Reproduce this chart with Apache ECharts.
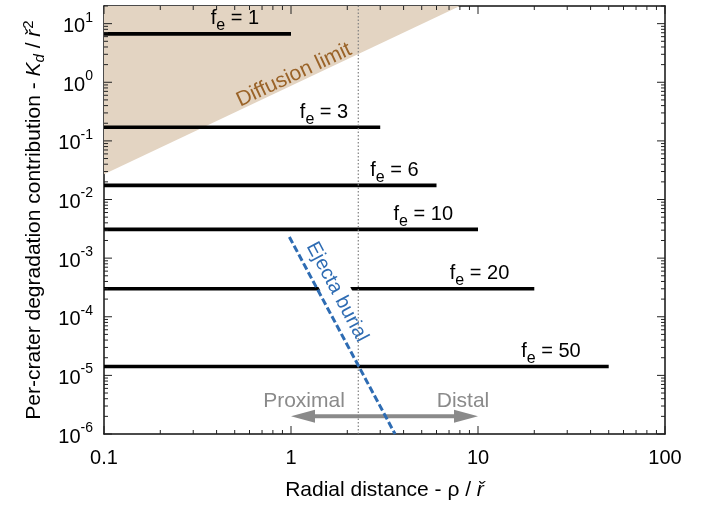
<!DOCTYPE html>
<html>
<head>
<meta charset="utf-8">
<script src="https://cdn.jsdelivr.net/npm/echarts@6/dist/echarts.min.js"></script>
<style>
  html, body { margin: 0; padding: 0; background: #fff; }
  #chart { width: 706px; height: 506px; }
</style>
</head>
<body>
<div id="chart"></div>
<script>
const FONT = '"Liberation Sans", Arial, Helvetica, sans-serif';

// Ejecta efficiency factors and their per-crater degradation levels
const feNames = ['1', '3', '6', '10', '20', '50'];
const feLevels = [6.7, 0.171, 0.0174, 0.0031, 0.0003, 1.42e-5];
const feReach = [1, 3, 6, 10, 20, 50];
const feStart = 0.1;

// Diffusion limit boundary; the region above it is shaded
const diffusionX = [0.1, 8];
const diffusionY = [0.027, 20];

// Ejecta burial line
const burialX = [0.98, 3.6];
const burialY = [0.0023, 1e-6];

// Proximal / distal divide
const divideX = 2.29;

// Proximal <-> distal arrow
const arrowX = [1, 10];
const arrowY = 2e-6;

// Axis ranges and tick labels
const xMin = 0.1, xMax = 100;
const yMin = 1e-6, yMax = 20;
const xTickLabels = ['0.1', '1', '10', '100'];

// Label layout (pixels): shift of each f_e label's right edge from its line end
const feLabelShift = [-32, -32, -18, -25, -25, -28];

// Log-axis tick marks: 1..9 x 10^n inside each range
function logTicks(lo, hi) {
  const out = [];
  for (let e = Math.floor(Math.log10(lo)); e <= Math.ceil(Math.log10(hi)); e++) {
    for (let k = 1; k <= 9; k++) {
      const v = k * Math.pow(10, e);
      if (v >= lo * 0.999 && v <= hi * 1.001) out.push([v, k === 1 ? 1 : 0]);
    }
  }
  return out;
}
const tickData = [];
logTicks(xMin, xMax).forEach(t => tickData.push([t[0], yMin, t[1], 0]));
logTicks(yMin, yMax).forEach(t => tickData.push([xMin, t[0], t[1], 1]));

const chart = echarts.init(document.getElementById('chart'), null, { renderer: 'canvas' });

const frameLine = { show: true, onZero: false, lineStyle: { color: '#111', width: 1.5 } };

const series = [];

// shaded diffusion-limited region
series.push({
  type: 'line',
  data: diffusionX.map((x, i) => [x, diffusionY[i]]),
  showSymbol: false,
  lineStyle: { width: 0 },
  areaStyle: { color: '#e3d4c2', opacity: 1, origin: 'end' },
  silent: true,
  z: 1
});

// horizontal f_e levels
feLevels.forEach((lv, i) => {
  series.push({
    type: 'line',
    name: 'fe' + feNames[i],
    data: [[feStart, lv], [feReach[i], lv]],
    showSymbol: false,
    lineStyle: { color: '#000', width: 3.6, cap: 'butt' },
    silent: true,
    z: 2
  });
});

// proximal / distal divide
series.push({
  type: 'line',
  data: [[divideX, yMin], [divideX, yMax]],
  showSymbol: false,
  lineStyle: { color: '#808080', width: 1.2, type: [1.5, 2] },
  silent: true,
  z: 5
});

// ejecta burial
series.push({
  type: 'line',
  data: burialX.map((x, i) => [x, burialY[i]]),
  showSymbol: false,
  lineStyle: { color: '#2e6cb3', width: 3, type: [7, 3], cap: 'butt' },
  silent: true,
  z: 6
});

// double-headed arrow
series.push({
  type: 'custom',
  data: [[arrowX[0], arrowY, arrowX[1]]],
  encode: { x: [0, 2], y: 1 },
  silent: true,
  z: 4,
  renderItem: (params, api) => {
    const a = api.coord([api.value(0), api.value(1)]);
    const b = api.coord([api.value(2), api.value(1)]);
    const hl = 24, hw = 6.5, col = '#8a8a8a';
    return {
      type: 'group',
      children: [
        { type: 'line', shape: { x1: a[0] + hl - 2, y1: a[1], x2: b[0] - hl + 2, y2: b[1] },
          style: { stroke: col, lineWidth: 4 } },
        { type: 'polygon', shape: { points: [[a[0], a[1]], [a[0] + hl, a[1] - hw], [a[0] + hl, a[1] + hw]] },
          style: { fill: col } },
        { type: 'polygon', shape: { points: [[b[0], b[1]], [b[0] - hl, b[1] - hw], [b[0] - hl, b[1] + hw]] },
          style: { fill: col } }
      ]
    };
  }
});

// inward tick marks on all four sides
series.push({
  type: 'custom',
  data: tickData,
  encode: { x: 0, y: 1 },
  silent: true,
  clip: false,
  z: 10,
  renderItem: (params, api) => {
    const v = api.value(0), w = api.value(1), major = api.value(2), ax = api.value(3);
    const len = major ? 8 : 4;
    const st = { stroke: '#222', lineWidth: 1 };
    if (ax === 0) {
      const a = api.coord([v, yMin]), b = api.coord([v, yMax]);
      return { type: 'group', children: [
        { type: 'line', shape: { x1: a[0], y1: a[1], x2: a[0], y2: a[1] - len }, style: st },
        { type: 'line', shape: { x1: b[0], y1: b[1], x2: b[0], y2: b[1] + len }, style: st }
      ] };
    }
    const a = api.coord([xMin, w]), b = api.coord([xMax, w]);
    return { type: 'group', children: [
      { type: 'line', shape: { x1: a[0], y1: a[1], x2: a[0] + len, y2: a[1] }, style: st },
      { type: 'line', shape: { x1: b[0], y1: b[1], x2: b[0] - len, y2: b[1] }, style: st }
    ] };
  }
});

const isDecade = v => Math.abs(Math.log10(v) - Math.round(Math.log10(v))) < 1e-6;

chart.setOption({
  animation: false,
  backgroundColor: '#fff',
  textStyle: { fontFamily: FONT },
  grid: { left: 104, right: 41, top: 6, bottom: 70, containLabel: false },
  xAxis: [
    {
      type: 'log', logBase: 10, min: xMin, max: xMax, splitNumber: 3,
      position: 'bottom',
      name: '{n|Radial distance - ρ / }{i|ř}',
      nameLocation: 'middle', nameGap: 46,
      nameTextStyle: {
        rich: {
          n: { fontFamily: FONT, fontSize: 21, color: '#000' },
          i: { fontFamily: FONT, fontSize: 21, color: '#000', fontStyle: 'italic' }
        }
      },
      axisLine: frameLine,
      axisTick: { show: false },
      splitLine: { show: false },
      axisLabel: {
        margin: 14, fontFamily: FONT, fontSize: 20, color: '#000',
        formatter: v => isDecade(v) ? xTickLabels[Math.round(Math.log10(v)) + 1] : ''
      }
    },
    {
      type: 'log', logBase: 10, min: xMin, max: xMax, position: 'top',
      axisLine: frameLine, axisTick: { show: false }, axisLabel: { show: false }, splitLine: { show: false }
    }
  ],
  yAxis: [
    {
      type: 'log', logBase: 10, min: yMin, max: yMax, splitNumber: 8,
      position: 'left',
      name: '{n|Per-crater degradation contribution - }{i|K}{sub|d}{n| / }{i|ř}{sup|2}',
      nameLocation: 'middle', nameGap: 52, nameRotate: 90,
      nameTextStyle: {
        rich: {
          n: { fontFamily: FONT, fontSize: 21, color: '#000', lineHeight: 26, verticalAlign: 'top', padding: [2, 0, 0, 0] },
          i: { fontFamily: FONT, fontSize: 21, color: '#000', fontStyle: 'italic', lineHeight: 26, verticalAlign: 'top', padding: [2, 0, 0, 0] },
          sub: { fontFamily: FONT, fontSize: 15, color: '#000', fontStyle: 'italic', lineHeight: 26, verticalAlign: 'top', padding: [11, 0, 0, 0] },
          sup: { fontFamily: FONT, fontSize: 15, color: '#000', lineHeight: 26, verticalAlign: 'top', padding: [0, 0, 0, 1] }
        }
      },
      axisLine: frameLine,
      axisTick: { show: false },
      splitLine: { show: false },
      axisLabel: {
        margin: 11, color: '#000',
        formatter: v => isDecade(v) ? '{b|10}{s|' + Math.round(Math.log10(v)) + '}' : '',
        rich: {
          b: { fontFamily: FONT, fontSize: 20, color: '#000', lineHeight: 26, verticalAlign: 'bottom' },
          s: { fontFamily: FONT, fontSize: 14, color: '#000', lineHeight: 26, verticalAlign: 'top' }
        }
      }
    },
    {
      type: 'log', logBase: 10, min: yMin, max: yMax, position: 'right',
      axisLine: frameLine, axisTick: { show: false }, axisLabel: { show: false }, splitLine: { show: false }
    }
  ],
  series: series
});

// annotations
const labelRich = {
  f: { fontFamily: FONT, fontSize: 20, fill: '#000', lineHeight: 26, verticalAlign: 'top' },
  e: { fontFamily: FONT, fontSize: 16, fill: '#000', lineHeight: 26, verticalAlign: 'top', padding: [9, 0, 0, 0] }
};
const graphics = [];
feLevels.forEach((lv, i) => {
  const p = chart.convertToPixel({ xAxisIndex: 0, yAxisIndex: 0 }, [feReach[i], lv]);
  graphics.push({
    type: 'text',
    x: p[0] + feLabelShift[i], y: p[1] - 25,
    z: 20,
    style: {
      text: '{f|f}{e|e}{f| = ' + feNames[i] + '}',
      rich: labelRich,
      align: 'right', verticalAlign: 'top'
    }
  });
});
graphics.push({
  type: 'text', x: 294, y: 75, rotation: 25.2 * Math.PI / 180, z: 20,
  style: { text: 'Diffusion limit', fontFamily: FONT, fontSize: 21, fill: '#9a6328', align: 'center', verticalAlign: 'middle' }
});
graphics.push({
  type: 'text', x: 337, y: 292, rotation: -62 * Math.PI / 180, z: 3,
  style: {
    text: 'Ejecta burial', fontFamily: FONT, fontSize: 20, fill: '#2e6cb3',
    align: 'center', verticalAlign: 'middle',
    backgroundColor: '#fff', padding: [4, 2, 4, 2]
  }
});
graphics.push({
  type: 'text', x: 304, y: 401, z: 20,
  style: { text: 'Proximal', fontFamily: FONT, fontSize: 21, fill: '#8a8a8a', align: 'center', verticalAlign: 'middle' }
});
graphics.push({
  type: 'text', x: 463, y: 401, z: 20,
  style: { text: 'Distal', fontFamily: FONT, fontSize: 21, fill: '#8a8a8a', align: 'center', verticalAlign: 'middle' }
});
chart.setOption({ graphic: graphics });
</script>
</body>
</html>
